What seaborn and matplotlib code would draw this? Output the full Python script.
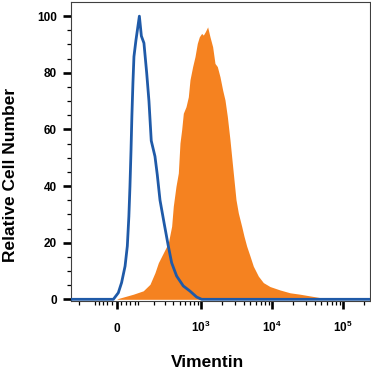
import matplotlib
matplotlib.use("Agg")
import matplotlib.pyplot as plt
import numpy as np
import seaborn as sns
from matplotlib.ticker import FixedLocator

# isotype control, outline (fluorescence intensity, relative count)
control_x = [-272, -14, 7, 21, 36, 46, 53, 58, 63, 67, 72, 77, 87, 105, 116, 131,
             148, 163, 179, 207, 226, 250, 292, 336, 377, 447, 559, 697, 868, 1022, 241000]
control_y = [0, 0, 2.3, 5.9, 11.7, 18.8, 29.3, 39.9, 52.8, 64.6, 76.3, 85.7, 91.5, 100, 93, 90.5,
             80, 70, 56, 50.5, 44, 35, 26.5, 18.8, 12.9, 8.2, 4.7, 2.9, 0.8, 0, 0]

# vimentin stained cells, filled
vim_x = [-272, 0, 7, 74, 127, 170, 207, 235, 282, 336, 377, 399, 437, 473, 500, 529, 559,
         611, 660, 697, 761, 822, 887, 947, 1022, 1080, 1152, 1243, 1342, 1463, 1579, 1703,
         1858, 2026, 2186, 2358, 2571, 2803, 3124, 3370, 3755, 4049, 4415, 4920, 5481, 6447,
         7582, 9412, 13017, 18000, 24899, 34439, 47633, 65876, 241000]
vim_y = [0, 0, 0.3, 1.8, 3, 5.3, 9.4, 12.9, 16.4, 19.9, 25.8, 32.9, 39.9, 44.6, 55.2, 59.9, 65.7,
         68, 71.5, 77.5, 82.2, 85.7, 90.4, 92.7, 93.9, 93.3, 94.5, 96.2, 92.7, 89.2, 83.3, 82.2,
         78.6, 73.9, 70.4, 64.6, 56.3, 46.9, 35.2, 30.5, 25.8, 22.3, 18.8, 15.3, 11.7, 8.2,
         5.9, 4.5, 3.3, 2.3, 1.8, 1.2, 0.6, 0, 0]

major_ticks = [0, 1000, 10000, 100000]
major_labels = ["0", "$10^3$", "$10^4$", "$10^5$"]
minor_ticks = ([-200, -100, -80, -60, -40, -20, 20, 40, 60, 80]
               + list(range(100, 1000, 100)) + list(range(2000, 10000, 1000))
               + list(range(20000, 100000, 10000)) + [200000])
y_major = [0, 20, 40, 60, 80, 100]
y_minor = [v for v in range(0, 105, 5) if v % 20]

ORANGE = "#F58220"
BLUE = "#1F5AA8"
C = 130.5  # width of the linear part around zero


def fwd(x):
    return np.arcsinh(np.asarray(x, dtype=float) / C) / np.log(10)


def inv(y):
    return C * np.sinh(np.asarray(y, dtype=float) * np.log(10))


sns.set_style("ticks")
plt.rcParams["font.family"] = ["Liberation Sans", "DejaVu Sans"]
plt.rcParams["mathtext.fontset"] = "custom"
plt.rcParams["mathtext.rm"] = "Liberation Sans:bold"
plt.rcParams["mathtext.default"] = "rm"
plt.rcParams["text.color"] = "black"
plt.rcParams["axes.labelcolor"] = "black"
plt.rcParams["xtick.color"] = "black"
plt.rcParams["ytick.color"] = "black"

fig = plt.figure(figsize=(3.71, 3.72), dpi=100)
ax = fig.add_axes([71 / 371, 1 - 301 / 372, 299 / 371, 299 / 372])

ax.fill_between(vim_x, vim_y, color=ORANGE, lw=0, zorder=2)
sns.lineplot(x=control_x, y=control_y, color=BLUE, lw=2, ax=ax, zorder=3)

ax.set_xscale("function", functions=(fwd, inv))
ax.set_xlim(-272, 241000)
ax.set_ylim(-0.6, 105)

ax.xaxis.set_major_locator(FixedLocator(major_ticks))
ax.xaxis.set_minor_locator(FixedLocator(minor_ticks))
ax.set_xticklabels(major_labels)
ax.yaxis.set_major_locator(FixedLocator(y_major))
ax.yaxis.set_minor_locator(FixedLocator(y_minor))

for s in ax.spines.values():
    s.set_visible(True)
    s.set_color("#404040")
    s.set_linewidth(0.8)

ax.tick_params(which="major", length=5.5, width=1.9, color="black",
               labelcolor="black", labelsize=8.5)
ax.tick_params(which="minor", length=3, width=0.9, color="black")
ax.tick_params(axis="x", which="major", pad=17)
ax.tick_params(axis="y", which="major", pad=4.5)
for lab in ax.get_xticklabels() + ax.get_yticklabels():
    lab.set_fontweight("bold")
for lab in ax.get_xticklabels():
    lab.set_va("baseline")

ax.set_xlabel("Vimentin", fontsize=12.5, fontweight="bold", va="baseline", color="black")
ax.xaxis.set_label_coords(0.4565, -0.2224)
ax.set_ylabel("Relative Cell Number", fontsize=12.5, fontweight="bold", va="center",
              color="black")
ax.yaxis.set_label_coords(-0.204, 0.421)

fig.savefig("out.png", dpi=100)
